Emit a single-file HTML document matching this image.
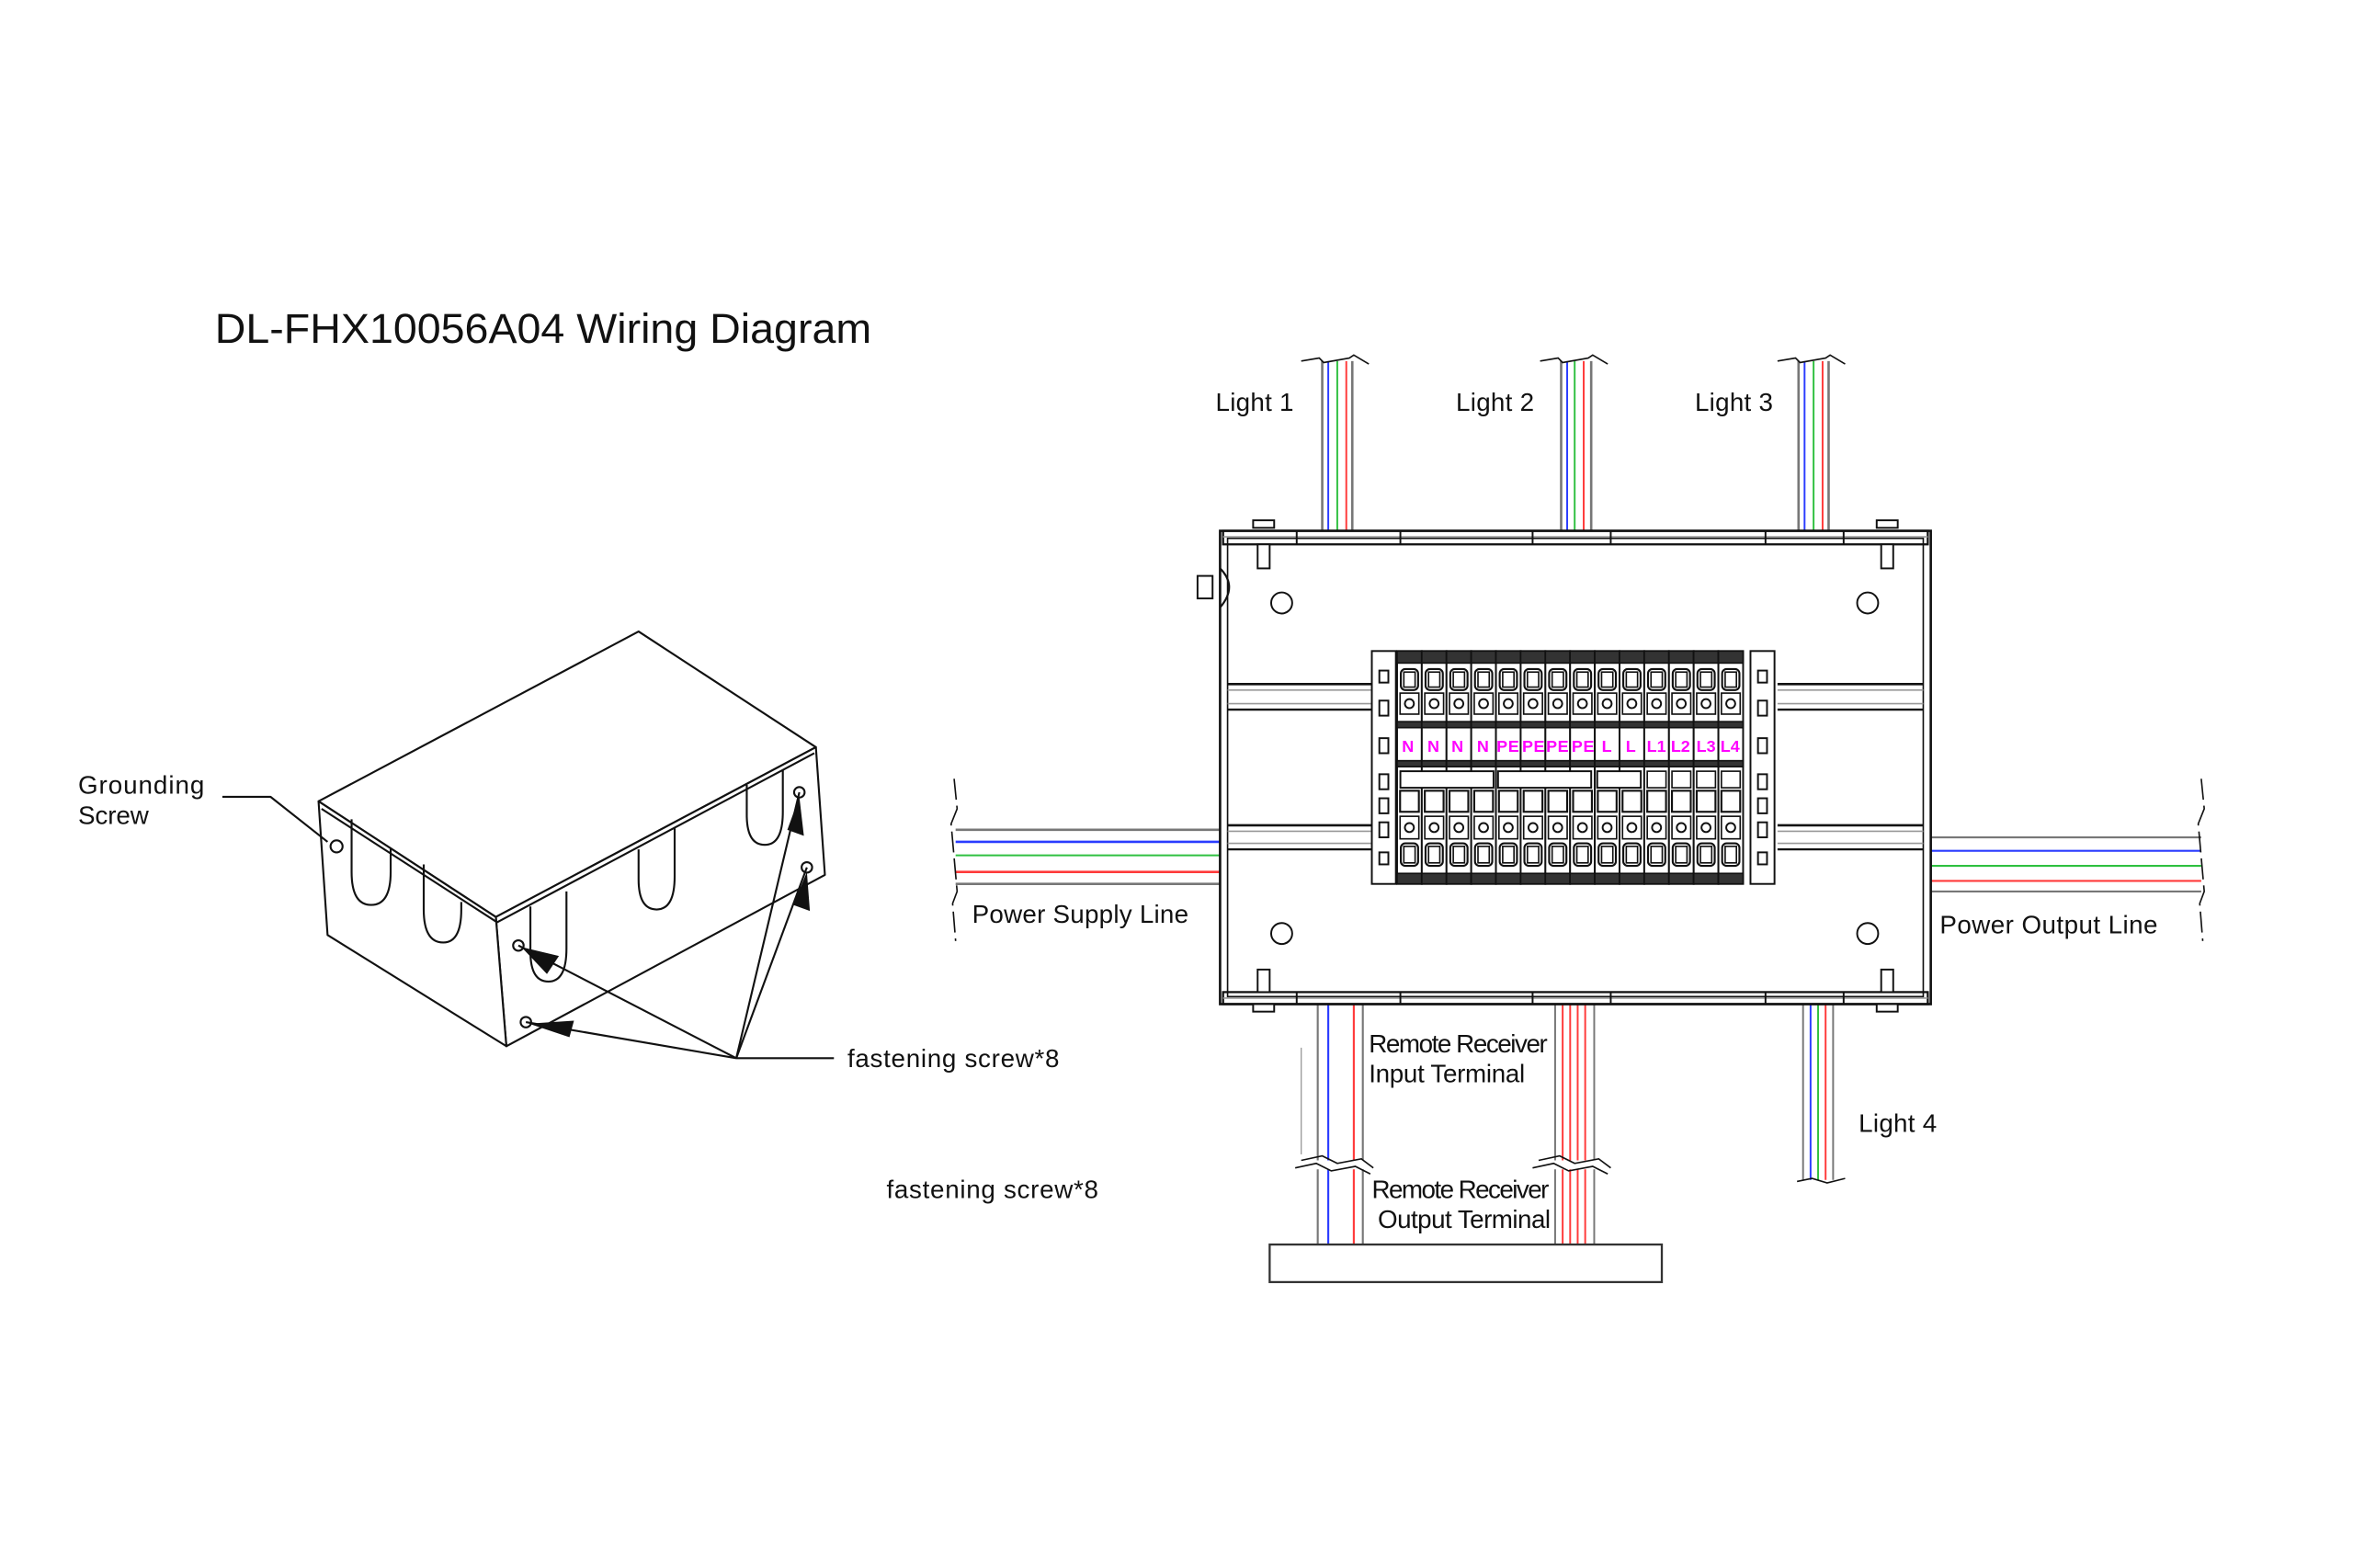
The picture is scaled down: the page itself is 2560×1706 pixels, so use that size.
<!DOCTYPE html>
<html><head><meta charset="utf-8"><style>
html,body{margin:0;padding:0;background:#fff;}
svg{display:block;}
text{font-family:"Liberation Sans",sans-serif;fill:#111;}
</style></head><body>
<svg id="s" width="2560" height="1706" viewBox="0 0 1566 1043" xmlns="http://www.w3.org/2000/svg">
<rect width="1566" height="1043" fill="#fff"/>
<text x="143" y="228" font-size="28" textLength="437" lengthAdjust="spacingAndGlyphs">DL-FHX10056A04 Wiring Diagram</text>

<!-- iso box -->
<g fill="none" stroke="#111" stroke-width="1.3" stroke-linejoin="round">
<polygon points="212,533 425,420 543,497 330,610" fill="#fff"/>
<polygon points="330,610 543,497 549,582 337,696" fill="#fff"/>
<polygon points="212,533 330,610 337,696 218,622" fill="#fff"/>
<line x1="214" y1="538" x2="330" y2="613"/>
<line x1="330" y1="614" x2="542" y2="501"/>
<path d="M234,545 v35 q0,22 13,22 q13,0 13,-22 v-16"/>
<path d="M282,575 v30 q0,22 13,22 q12,0 12,-22 v-5"/>
<path d="M353,603 v30 q0,20 12,20 q12,0 12,-22 v-38"/>
<path d="M425,565 v20 q0,20 12,20 q12,0 12,-22 v-32"/>
<path d="M497,522 v20 q0,20 12,20 q12,0 12,-22 v-28"/>
<circle cx="224" cy="563" r="4"/><circle cx="345" cy="629" r="3.5"/><circle cx="350" cy="680" r="3.5"/>
<circle cx="532" cy="527" r="3.5"/><circle cx="537" cy="577" r="3.5"/>
<polyline points="148,530 180,530 218,560"/>
<line x1="490" y1="704" x2="555" y2="704"/>
<line x1="490" y1="704" x2="345" y2="629"/><line x1="490" y1="704" x2="350" y2="680"/>
<line x1="490" y1="704" x2="532" y2="527"/><line x1="490" y1="704" x2="537" y2="577"/>
</g>
<g fill="#111">
<polygon points="347,630 372,636 364,648"/><polygon points="352,681 382,679 379,690"/>
<polygon points="532,530 535,556 524,552"/><polygon points="537,580 539,606 528,602"/>
</g>
<g font-size="17" lengthAdjust="spacingAndGlyphs">
<text x="52" y="528" textLength="84">Grounding</text><text x="52" y="548" textLength="47">Screw</text>
<text x="564" y="710" textLength="141">fastening screw*8</text>
<text x="590" y="797" textLength="141">fastening screw*8</text>
</g>

<g id="dyn"></g>

<g font-size="17">
<text x="809" y="273" textLength="52">Light 1</text><text x="969" y="273" textLength="52">Light 2</text><text x="1128" y="273" textLength="52">Light 3</text>
<text x="1237" y="753" textLength="52">Light 4</text>
<text x="647" y="614" textLength="144">Power Supply Line</text><text x="1291" y="621" textLength="145">Power Output Line</text>
<text x="911" y="700" textLength="119">Remote Receiver</text><text x="911" y="720" textLength="104">Input Terminal</text>
<text x="913" y="797" textLength="118">Remote Receiver</text><text x="917" y="817" textLength="115">Output Terminal</text>
</g>
<g font-size="11" font-weight="bold">
<text x="933" y="500" style="fill:#ff00ff">N</text><text x="950" y="500" style="fill:#ff00ff">N</text>
<text x="966" y="500" style="fill:#ff00ff">N</text><text x="983" y="500" style="fill:#ff00ff">N</text>
<text x="996" y="500" style="fill:#ff00ff" textLength="15">PE</text><text x="1013" y="500" style="fill:#ff00ff" textLength="15">PE</text>
<text x="1029" y="500" style="fill:#ff00ff" textLength="15">PE</text><text x="1046" y="500" style="fill:#ff00ff" textLength="15">PE</text>
<text x="1066" y="500" style="fill:#ff00ff">L</text><text x="1082" y="500" style="fill:#ff00ff">L</text>
<text x="1096" y="500" style="fill:#ff00ff">L1</text><text x="1112" y="500" style="fill:#ff00ff">L2</text>
<text x="1129" y="500" style="fill:#ff00ff">L3</text><text x="1145" y="500" style="fill:#ff00ff">L4</text>
</g>
</svg>
<script>
var g=document.getElementById('dyn'),h='';
function L(x1,y1,x2,y2,c,w){h+='<line x1="'+x1+'" y1="'+y1+'" x2="'+x2+'" y2="'+y2+'" stroke="'+(c||'#111')+'" stroke-width="'+(w||1.2)+'"/>';}
function R(x,y,w,hh,f,c,sw){h+='<rect x="'+x+'" y="'+y+'" width="'+w+'" height="'+hh+'" fill="'+(f||'none')+'" stroke="'+(c||'#111')+'" stroke-width="'+(sw||1.2)+'"/>';}
function C(x,y,r){h+='<circle cx="'+x+'" cy="'+y+'" r="'+r+'" fill="none" stroke="#111" stroke-width="1.2"/>';}
var B='#2a3cff',G='#2fc040',Rd='#ff3a3a',Gy='#777';
[[880,884,890,896,900],[1039,1043,1048,1054,1059],[1197,1201,1207,1213,1217]].forEach(function(a){
 var cs=[Gy,B,G,Rd,Gy];a.forEach(function(x,i){L(x,240,x,353,cs[i],i%4==0?1.6:1.2);});
 h+='<path d="M'+(a[0]-14)+',240 l12,-2 l3,3 l'+(a[4]-a[0]-3)+',-3 l3,-2 l10,6" fill="none" stroke="#111" stroke-width="1"/>';
});
[[552,Gy],[560,B],[569,G],[580,Rd],[588,Gy]].forEach(function(p){L(636,p[0],812,p[0],p[1],p[0]%4==0?1.6:1.2);});
h+='<path d="M635,518 l2,20 l-4,10 l4,45 l-3,8 l2,25" fill="none" stroke="#111" stroke-width="1" stroke-dasharray="14,4"/>';
[[557,Gy],[566,B],[576,G],[586,Rd],[593,Gy]].forEach(function(p){L(1285,p[0],1465,p[0],p[1],1.3);});
h+='<path d="M1465,518 l2,20 l-4,10 l4,45 l-3,8 l2,25" fill="none" stroke="#111" stroke-width="1" stroke-dasharray="14,4"/>';
[[877,Gy],[884,B],[901,Rd],[907,Gy]].forEach(function(p){L(p[0],668,p[0],772,p[1],1.3);L(p[0],778,p[0],828,p[1],1.3);});
L(866,697,866,768,'#999',0.8);
[[1035,Gy],[1040,Rd],[1045,Rd],[1050,Rd],[1055,Rd],[1061,Gy]].forEach(function(p){L(p[0],668,p[0],772,p[1],1.2);L(p[0],778,p[0],828,p[1],1.2);});
h+='<path d="M862,777 l14,-3 l10,5 l16,-3 l10,5 M866,772 l14,-3 l10,5 l16,-3 l8,6 M1020,777 l14,-3 l10,5 l16,-3 l10,5 M1024,772 l14,-3 l10,5 l16,-3 l8,6" fill="none" stroke="#111" stroke-width="1"/>';
[[1200,Gy],[1205,B],[1210,G],[1215,Rd],[1220,Gy]].forEach(function(p){L(p[0],668,p[0],785,p[1],1.2);});
h+='<path d="M1196,786 l10,-2 l10,3 l12,-3" fill="none" stroke="#111" stroke-width="1"/>';
R(845,828,261,25,'#fff','#333',1.4);
R(812,353,473,315,'#fff','#111',1.6);R(817,358,463,305,'none','#111',1);
R(814,353,469,9,'none','#111',1.4);L(814,357,1283,357,'#999',1);
R(814,660,469,8,'none','#111',1.4);L(814,664,1283,664,'#999',1);
[863,932,1020,1072,1175,1227].forEach(function(x){L(x,353,x,362);L(x,660,x,668);});
[841,1256].forEach(function(x){R(x-7,346,14,5,'#fff');R(x-4,362,8,16,'#fff');R(x-4,645,8,15,'#fff');R(x-7,668,14,5,'#fff');});
R(797,383,10,15,'#fff');h+='<path d="M812,378 q12,12 0,26" fill="none" stroke="#111" stroke-width="1.3"/>';
C(853,401,7);C(1243,401,7);C(853,621,7);C(1243,621,7);
[[455,472],[549,565]].forEach(function(r){[[817,913],[1183,1280]].forEach(function(s){
 L(s[0],r[0],s[1],r[0],'#111',1.6);L(s[0],r[0]+4,s[1],r[0]+4,'#999',1);L(s[0],r[1]-4,s[1],r[1]-4,'#999',1);L(s[0],r[1],s[1],r[1],'#111',1.4);});});
R(913,433,16,155,'#fff');R(1165,433,16,155,'#fff');
[[446,8],[466,10],[491,10],[515,10],[531,10],[547,10],[567,8]].forEach(function(p){R(918,p[0],6,p[1]);R(1170,p[0],6,p[1]);});
for(var i=0;i<14;i++){var x=929.8+i*16.45;
 R(x,433,16.45,155,'#fff','#111',1.2);
 R(x,433,16.45,8,'#333','#111',1);R(x,480,16.45,4,'#333','#111',1);R(x,506,16.45,4,'#333','#111',1);R(x,581,16.45,7,'#333','#111',1);
 h+='<rect x="'+(x+2.5)+'" y="445" width="11.5" height="14" rx="3" fill="none" stroke="#111" stroke-width="1.3"/>';
 h+='<rect x="'+(x+4.5)+'" y="447" width="7.5" height="10" fill="none" stroke="#111" stroke-width="1"/>';
 R(x+2,461,12.5,14,'none','#111',1);C(x+8.2,468,3);
 R(x+2,526,12.5,14,'#fff','#111',1.3);
 R(x+2,543,12.5,15,'none','#111',1);C(x+8.2,550.5,3);
 h+='<rect x="'+(x+2.5)+'" y="561" width="11.5" height="15" rx="3" fill="none" stroke="#111" stroke-width="1.3"/>';
 h+='<rect x="'+(x+4.5)+'" y="563" width="7.5" height="11" fill="none" stroke="#111" stroke-width="1"/>';
 if(i>=10)R(x+2,513,12.5,11,'#fff','#111',1);
}
R(932,513,62,11,'#fff');R(997,513,62,11,'#fff');R(1063,513,29,11,'#fff');
g.innerHTML=h;
</script>
</body></html>
